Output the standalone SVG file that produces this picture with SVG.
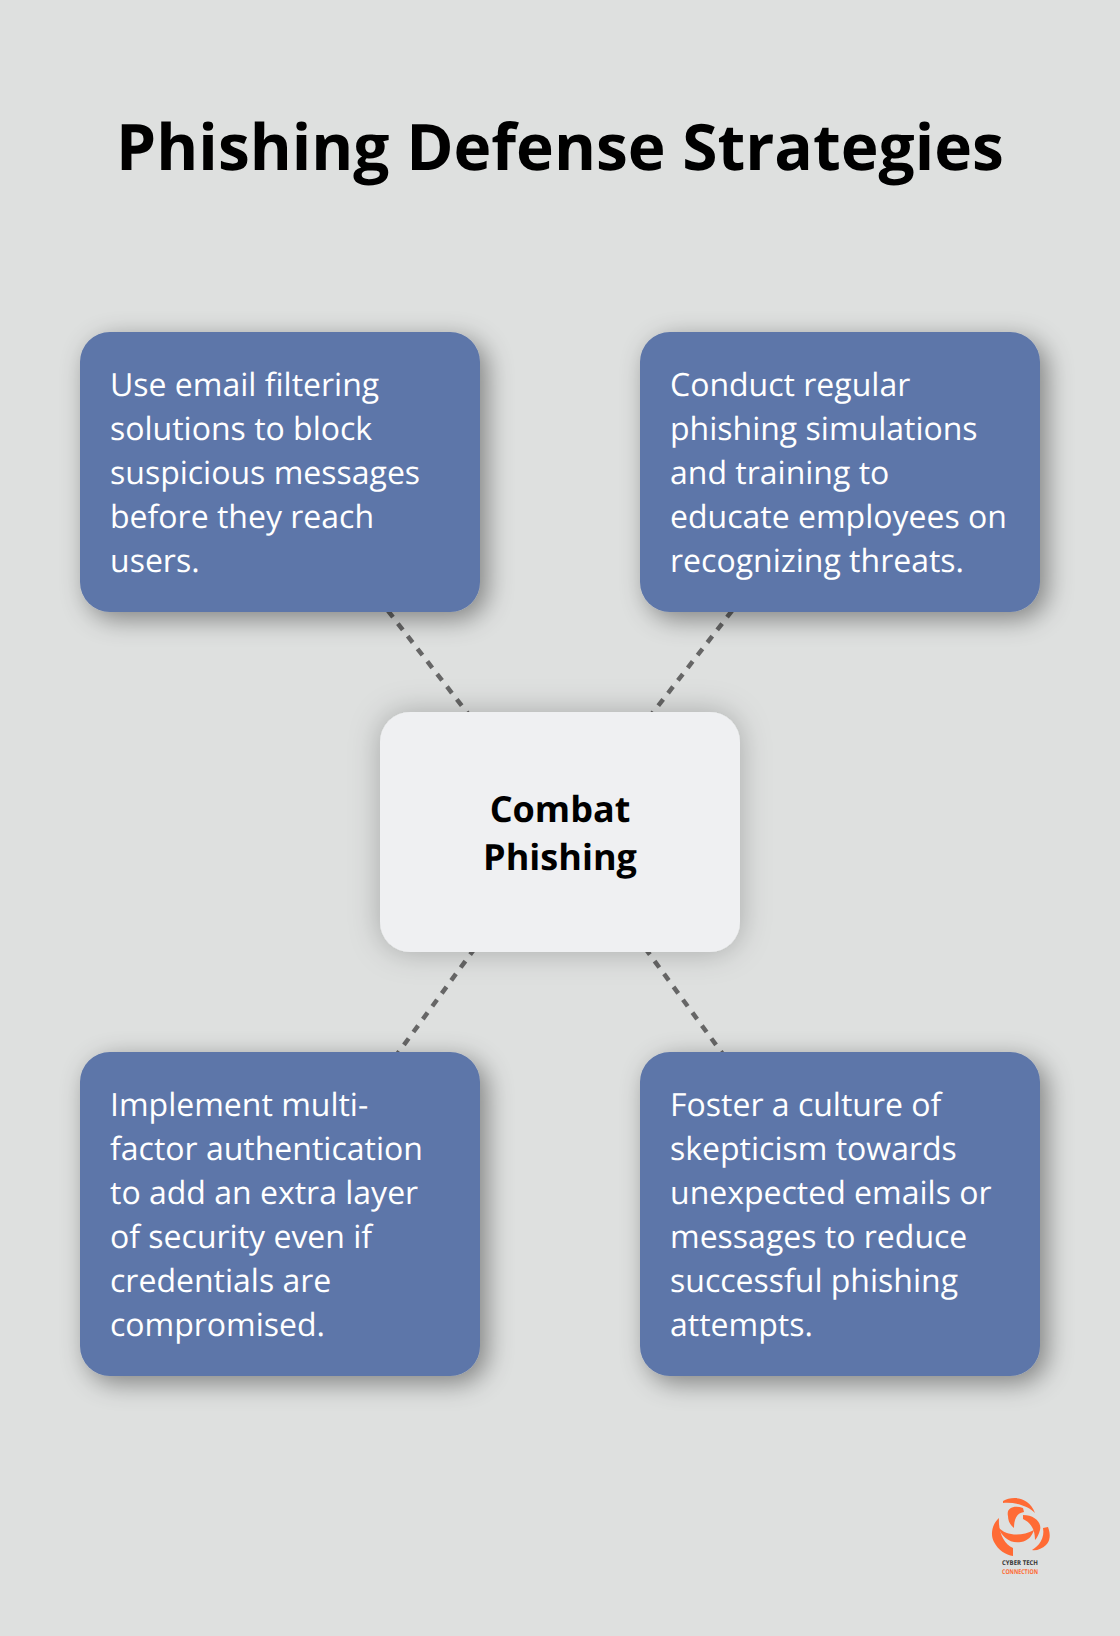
<svg xmlns="http://www.w3.org/2000/svg" width="1120" height="1636" viewBox="0 0 1120 1636">
<style>
text{font-family:"Open Sans","Noto Sans",sans-serif;text-rendering:geometricPrecision}
.b{fill:#5d76a9;filter:url(#s)}
.c{fill:#eff0f2;filter:url(#s2)}
.t{font-size:32px;fill:#fff}
.h{font-size:36px;font-weight:700;fill:#000;text-anchor:middle}
.l{stroke:#666;stroke-width:4.5;stroke-dasharray:8 8;fill:none}
.o{fill:#ff6b35}
</style>
<defs>
<filter id="s" x="-25%" y="-25%" width="150%" height="150%"><feDropShadow dx="7" dy="7" stdDeviation="13" flood-color="#000" flood-opacity=".42"/></filter>
<filter id="s2" x="-25%" y="-25%" width="150%" height="150%"><feDropShadow dx="0" dy="0" stdDeviation="15" flood-color="#000" flood-opacity=".25"/></filter>
</defs>
<rect width="1120" height="1636" fill="#dee0df"/>
<text x="560" y="170" text-anchor="middle" font-size="64" font-weight="700" fill="#000">Phishing Defense Strategies</text>
<g id="connectors">
<path class="l" d="M280 472L560 832"/>
<path class="l" d="M840 472L560 832"/>
<path class="l" d="M560 832L280 1214"/>
<path class="l" d="M560 832L840 1214"/>
</g>
<g id="node-center"><rect class="c" x="380" y="712" width="360" height="240" rx="30"/>
<text class="h" x="560" y="822">Combat</text><text class="h" x="560" y="870">Phishing</text></g>
<g id="node-tl"><rect class="b" x="80" y="332" width="400" height="280" rx="30"/>
<text class="t" x="110" y="396.4">Use email filtering</text><text class="t" x="110" y="440.4">solutions to block</text><text class="t" x="110" y="484.4">suspicious messages</text><text class="t" x="110" y="528.4">before they reach</text><text class="t" x="110" y="572.4">users.</text></g>
<g id="node-tr"><rect class="b" x="640" y="332" width="400" height="280" rx="30"/>
<text class="t" x="670" y="396.4">Conduct regular</text><text class="t" x="670" y="440.4">phishing simulations</text><text class="t" x="670" y="484.4">and training to</text><text class="t" x="670" y="528.4">educate employees on</text><text class="t" x="670" y="572.4">recognizing threats.</text></g>
<g id="node-bl"><rect class="b" x="80" y="1052" width="400" height="324" rx="30"/>
<text class="t" x="110" y="1116.4">Implement multi-</text><text class="t" x="110" y="1160.4">factor authentication</text><text class="t" x="110" y="1204.4">to add an extra layer</text><text class="t" x="110" y="1248.4">of security even if</text><text class="t" x="110" y="1292.4">credentials are</text><text class="t" x="110" y="1336.4">compromised.</text></g>
<g id="node-br"><rect class="b" x="640" y="1052" width="400" height="324" rx="30"/>
<text class="t" x="670" y="1116.4">Foster a culture of</text><text class="t" x="670" y="1160.4">skepticism towards</text><text class="t" x="670" y="1204.4">unexpected emails or</text><text class="t" x="670" y="1248.4">messages to reduce</text><text class="t" x="670" y="1292.4">successful phishing</text><text class="t" x="670" y="1336.4">attempts.</text></g>
<g id="logo">
<path class="o" d="M1003 1501C1012 1496 1029 1496 1035 1513C1029 1506 1016 1502 1003 1503Z"/>
<path class="o" d="M1023 1508C1014 1505 1006 1508 1008 1516C1008 1521 1010 1525 1014 1528C1014 1520 1016 1513 1024 1512Z"/>
<path class="o" d="M1023 1515C1034 1515 1042 1522 1040 1530C1039 1534 1037 1538 1035 1540C1035 1531 1032 1523 1023 1519Z"/>
<path class="o" d="M1043 1528L1048 1527C1051 1535 1050 1541 1046 1545C1042 1549 1036 1551 1032 1550C1039 1546 1045 1538 1043 1528Z"/>
<path class="o" d="M999 1518C992 1524 990 1535 994 1542C998 1550 1006 1555 1013 1556L1013 1548C1004 1544 998 1532 999 1518Z"/>
<path class="o" d="M998 1527C1006 1536 1021 1537 1034 1530C1032 1536 1028 1541 1021 1542C1010 1544 1002 1537 998 1527Z"/>
<text x="1020" y="1565" text-anchor="middle" font-size="6.5" font-weight="700" fill="#333" font-family="Liberation Sans" textLength="36" lengthAdjust="spacingAndGlyphs">CYBER TECH</text>
<text x="1020" y="1574" text-anchor="middle" font-size="6.5" font-weight="700" fill="#ff6b35" font-family="Liberation Sans" textLength="36" lengthAdjust="spacingAndGlyphs">CONNECTION</text>
</g>
</svg>
